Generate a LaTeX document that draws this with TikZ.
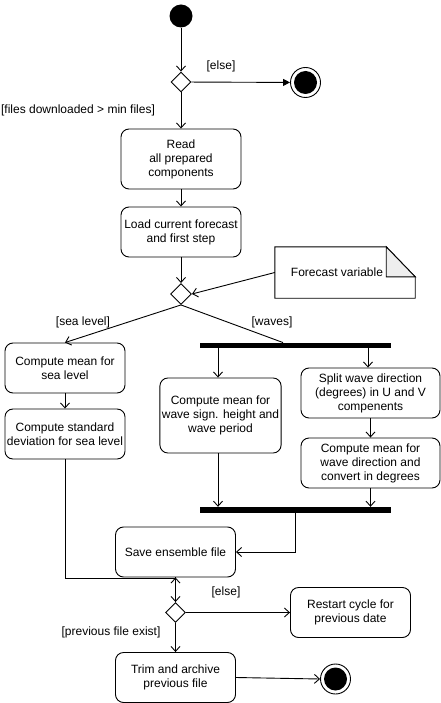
\documentclass[tikz,border=0pt]{standalone}
\usepackage{fontspec}
\setmainfont{Liberation Sans}
\usetikzlibrary{arrows.meta,shapes.geometric}
\definecolor{foldgray}{RGB}{238, 238, 238}

\begin{document}
\begin{tikzpicture}[x=1pt,y=-1pt,
	font=\fontsize{12}{14}\selectfont,
	flow/.style={draw,line width=0.9pt,-{Straight Barb[length=5pt,width=9pt]}},
	act/.style={draw,line width=0.9pt,rounded corners=8pt,align=center,minimum width=120,minimum height=50,inner sep=2pt},
	choice/.style={draw,line width=0.9pt,diamond,minimum width=20,minimum height=20,inner sep=0pt},
	bar/.style={fill=black,minimum width=191,minimum height=6,inner sep=0pt},
	guard/.style={inner sep=1pt}]
	\useasboundingbox (0,0) rectangle (441,703);
		\node[circle,fill=black,minimum size=23,inner sep=0pt] (start) at (181,16) {};
		\node[choice] (d1) at (181,82) {};
		\node[circle,draw,line width=0.9pt,minimum size=30,inner sep=0pt] (fin1) at (305.5,82.5) {};
		\fill (fin1) circle (11.5);
		\node[act,minimum height=60] (read) at (181,159) {Read\\all prepared\\components};
		\node[act] (load) at (181,232) {Load current forecast\\and first step};
		\node[choice,minimum width=21,minimum height=21] (d2) at (181,294) {};
		\node[minimum width=140,minimum height=51,inner sep=0pt,
			label={[xshift=-8pt]center:Forecast variable}] (note) at (345,272.5) {};
		\draw[line width=0.9pt] (note.north west) -- ([xshift=-29pt]note.north east) -- ([yshift=-30pt]note.north east) -- (note.south east) -- (note.south west) -- cycle;
		\draw[line width=0.9pt,fill=foldgray] ([xshift=-29pt]note.north east) -- ([xshift=-29pt,yshift=-30pt]note.north east) -- ([yshift=-30pt]note.north east) -- cycle;
		% sea level branch
		\node[act] (meansea) at (65,368) {Compute mean for\\sea level};
		\node[act] (stdsea) at (65,434) {Compute standard\\deviation for sea level};
		% waves branch
		\node[bar,minimum height=5.5] (fork) at (295.5,345.5) {};
		\node[act,minimum height=75] (meanwave) at (220.5,415.5) {Compute mean for\\wave sign. height and\\wave period};
		\node[act,minimum width=139] (split) at (370.5,393) {Split wave direction\\(degrees) in U and V\\compenents};
		\node[act,minimum width=139] (wavedir) at (370.5,463) {Compute mean for\\wave direction and\\convert in degrees};
		\node[bar] (join) at (295.5,510) {};
		\node[act] (save) at (175.5,552) {Save ensemble file};
		\node[choice] (d3) at (175.5,612.5) {};
		\node[act] (restart) at (350.5,612.5) {Restart cycle for\\previous date};
		\node[act] (trim) at (175.5,677.5) {Trim and archive\\previous file};
		\node[circle,draw,line width=0.9pt,minimum size=30,inner sep=0pt] (fin2) at (335.5,679) {};
		\fill (fin2) circle (11.5);
		% connectors
		\draw[flow] (start) -- (d1);
		\draw[line width=0.9pt,-{Triangle[length=7pt,width=7pt]}] (d1) -- (fin1);
		\node[guard] (g0) at (221,66) {[else]};
		\draw[flow] (d1) -- (read);
		\node[guard] (g1) at (78,110) {[files downloaded > min files]};
		\draw[flow] (read) -- (load);
		\draw[flow] (load) -- (d2);
		\draw[flow] (note.west) -- (d2.east);
		\draw[flow] (d2.south) -- (meansea.north);
		\draw[line width=0.9pt] (d2.south) -- ([xshift=-12.5pt]fork.north);
		\node[guard] (g2) at (83,322) {[sea level]};
		\node[guard] (g3) at (272,322) {[waves]};
		\draw[flow] ([xshift=-2.5pt]meanwave.north |- fork.south) -- ([xshift=-2.5pt]meanwave.north);
		\draw[flow] ([xshift=-2.5pt]split.north |- fork.south) -- ([xshift=-2.5pt]split.north);
		\draw[flow] (meansea) -- (stdsea);
		\draw[flow] (split) -- (wavedir);
		\draw[flow] ([xshift=-2.5pt]meanwave.south) -- ([xshift=-2.5pt]meanwave.south |- join.north);
		\draw[flow] (wavedir.south) -- (wavedir.south |- join.north);
		\draw[flow] (join.south) |- (save.east);
		\draw[flow] (stdsea.south) |- ([yshift=-1pt]save.south) -- (save.south);
		\draw[flow] (save.south) -- (d3.north);
		\draw[flow] (d3.east) -- (restart.west);
		\node[guard] (g4) at (226,592) {[else]};
		\draw[flow] (d3.south) -- (trim.north);
		\node[guard] (g5) at (111,632) {[previous file exist]};
		\draw[flow] (trim.east) -- (fin2.west);
	\end{tikzpicture}
\end{document}
